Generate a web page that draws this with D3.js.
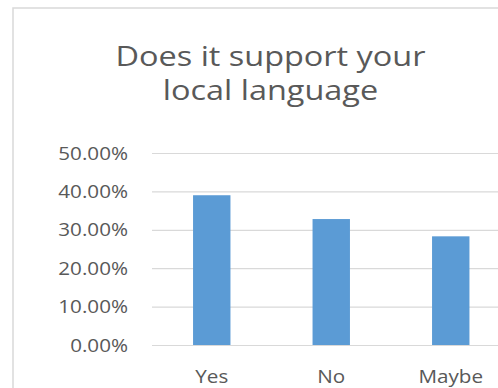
<!DOCTYPE html>
<html>
<head>
<meta charset="utf-8">
<script src="https://cdn.jsdelivr.net/npm/d3@7"></script>
<style>
  html, body { margin: 0; background: #fff; overflow: hidden; }
  svg { display: block; }
  text { font-family: "Open Sans", "Noto Sans", sans-serif; fill: #595959; }
</style>
</head>
<body>
<svg id="chart"></svg>
<script>
const categories = ["Yes", "No", "Maybe"];
const values = [0.39, 0.328, 0.283];
const yTicks = [0, 0.1, 0.2, 0.3, 0.4, 0.5];
const titleLines = ["Does it support your", "local language"];

const width = 498;
const height = 388;
const stretch = 1.18; // text in the picture is drawn wider than normal

const svg = d3.select("#chart")
    .attr("width", width)
    .attr("height", height);

// chart border: only top and left edges are inside the picture
svg.append("path")
    .attr("d", `M13,${height} L13,8 L${width},8`)
    .attr("fill", "none")
    .attr("stroke", "#d9d9d9")
    .attr("stroke-width", 1.5);

const plot = { left: 152, right: 510.5, top: 153, bottom: 345 };

const xScale = d3.scaleBand()
    .domain(categories)
    .range([plot.left, plot.right])
    .paddingInner(0.687)
    .paddingOuter(0.3435);

const yScale = d3.scaleLinear()
    .domain([0, 0.5])
    .range([plot.bottom, plot.top]);

// gridlines + tick labels
const yAxis = d3.axisLeft(yScale)
    .tickValues(yTicks)
    .tickFormat(d3.format(".2%"))
    .tickSizeInner(-(width - plot.left))
    .tickSizeOuter(0);

const gy = svg.append("g")
    .attr("transform", `translate(${plot.left},0)`)
    .call(yAxis);

gy.select(".domain").remove();
gy.selectAll(".tick line")
    .attr("stroke", "#d9d9d9")
    .attr("stroke-width", 1.2);
gy.selectAll(".tick text")
    .attr("x", 0)
    .attr("dy", "0.35em")
    .attr("transform", `translate(-24,0) scale(${stretch},1)`)
    .style("font-size", "17.5px")
    .style("fill", "#595959")
    .attr("text-anchor", "end");

// bars
svg.selectAll("rect.bar")
    .data(categories)
    .enter()
    .append("rect")
    .attr("class", "bar")
    .attr("x", function(d) { return xScale(d); })
    .attr("y", function(d, i) { return yScale(values[i]); })
    .attr("width", xScale.bandwidth())
    .attr("height", function(d, i) { return yScale(0) - yScale(values[i]); })
    .attr("fill", "#5b9bd5");

// category labels
svg.selectAll("text.cat")
    .data(categories)
    .enter()
    .append("text")
    .attr("class", "cat")
    .attr("transform", function(d) {
        return `translate(${xScale(d) + xScale.bandwidth() / 2},383) scale(${stretch},1)`;
    })
    .attr("text-anchor", "middle")
    .style("font-size", "17.5px")
    .text(function(d) { return d; });

// title
svg.selectAll("text.title")
    .data(titleLines)
    .enter()
    .append("text")
    .attr("class", "title")
    .attr("transform", function(d, i) {
        return `translate(270.5,${66 + i * 34}) scale(${stretch},1)`;
    })
    .attr("text-anchor", "middle")
    .style("font-size", "27.5px")
    .text(function(d) { return d; });
</script>
</body>
</html>
